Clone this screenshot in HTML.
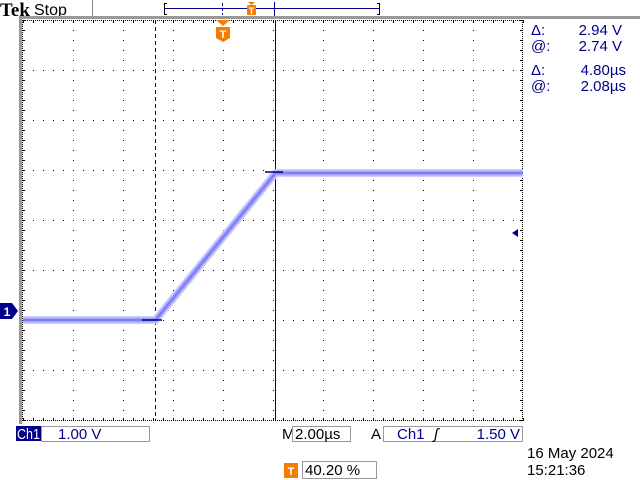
<!DOCTYPE html>
<html><head><meta charset="utf-8"><style>
body{margin:0;background:#fff;}
svg{display:block;font-family:"Liberation Sans",sans-serif;}
</style></head><body>
<svg id="scope" width="640" height="480" viewBox="0 0 640 480">
<text x="0" y="16" font-family="Liberation Serif" font-weight="bold" font-size="19" fill="#000">Tek</text>
<text x="34" y="15" font-size="16" fill="#000">Stop</text>
<line x1="92.5" y1="0" x2="92.5" y2="16" stroke="#888" stroke-width="1"/>
<g>
<path d="M167,3.5 H164.5 V14.5 H167 M377,3.5 H379.5 V14.5 H377" fill="none" stroke="#000" stroke-width="1"/>
<line x1="165" y1="8.5" x2="379" y2="8.5" stroke="#00008b" stroke-width="1"/>
<line x1="222.5" y1="3" x2="222.5" y2="15" stroke="#00008b" stroke-dasharray="3,2"/>
<line x1="274.5" y1="2" x2="274.5" y2="16" stroke="#00008b"/>
<path d="M248,2 H255 L251.5,5 Z" fill="#f57c00"/>
<rect x="247" y="5" width="9" height="10" rx="1" fill="#f57c00"/>
<text x="251.5" y="14" font-size="9" font-weight="bold" fill="#fff" text-anchor="middle">T</text>
</g>
<rect x="19" y="16" width="621" height="3" fill="#999"/>
<rect x="19" y="16" width="3" height="408" fill="#999"/>
<g id="grid"></g>
<line x1="155.5" y1="20" x2="155.5" y2="420" stroke="#00008b" stroke-width="1" stroke-dasharray="4,3"/>
<line x1="275.5" y1="20" x2="275.5" y2="420" stroke="#00008b" stroke-width="1"/>
<g id="trace"></g>
<line x1="142" y1="320" x2="162" y2="320" stroke="#00008b" stroke-width="1.5"/>
<line x1="265" y1="172" x2="283" y2="172" stroke="#00008b" stroke-width="1.5"/>
<g>
<path d="M216,20 H230 L223,26 Z" fill="#f57c00"/>
<path d="M216,27 H230 V38 L223,42 L216,38 Z" fill="#f57c00"/>
<text x="223" y="38" font-size="11" font-weight="bold" fill="#fff" text-anchor="middle">T</text>
</g>
<g>
<path d="M0,303 H12 L18,311 L12,319 H0 Z" fill="#00008b"/>
<text x="7" y="316" font-size="12" font-weight="bold" fill="#fff" text-anchor="middle">1</text>
</g>
<path d="M512,233 L518,229 V237 Z" fill="#00008b"/>
<g font-size="15" fill="#00008b">
<text x="531" y="35">Δ:</text><text x="622" y="35" text-anchor="end">2.94 V</text>
<text x="531" y="51">@:</text><text x="622" y="51" text-anchor="end">2.74 V</text>
<text x="531" y="75">Δ:</text><text x="626" y="75" text-anchor="end">4.80µs</text>
<text x="531" y="91">@:</text><text x="626" y="91" text-anchor="end">2.08µs</text>
</g>
<g font-size="15">
<rect x="16" y="426" width="25" height="15" fill="#00008b"/>
<text x="17" y="439" fill="#fff" textLength="23" lengthAdjust="spacingAndGlyphs">Ch1</text>
<rect x="41.5" y="426.5" width="108" height="15" fill="#fff" stroke="#999"/>
<text x="58" y="439" fill="#00008b">1.00 V</text>
<text x="282" y="439" fill="#000">M</text>
<rect x="292.5" y="426.5" width="58" height="15" fill="#fff" stroke="#999"/>
<text x="295" y="439" fill="#000">2.00µs</text>
<text x="371" y="439" fill="#000">A</text>
<rect x="383.5" y="426.5" width="139" height="15" fill="#fff" stroke="#999"/>
<text x="397" y="439" fill="#00008b">Ch1</text>
<text x="434" y="439" fill="#000" font-style="italic">ʃ</text>
<text x="520" y="439" fill="#00008b" text-anchor="end">1.50 V</text>
<text x="527" y="458" fill="#000">16 May 2024</text>
<text x="527" y="475" fill="#000">15:21:36</text>
<rect x="284" y="463" width="14" height="15" fill="#f57c00"/>
<text x="291" y="475" font-size="11" font-weight="bold" fill="#fff" text-anchor="middle">T</text>
<rect x="302.5" y="461.5" width="74" height="17" fill="#fff" stroke="#999"/>
<text x="305" y="475" fill="#000">40.20 %</text>
</g>
</svg>
<script>
const timeUs=[0,5.3,10.1,20];
const voltsV=[-0.16,-0.16,2.78,2.78];
const ns="http://www.w3.org/2000/svg";
function xOf(t){return 23+t*25;}
function yOf(v){return 312-v*50;}
const grid=document.getElementById('grid');
let d="";
for(let i=1;i<10;i++){const x=23+i*50;for(let y=30;y<=410;y+=10)d+=`M${x},${y}h1v1h-1z`;}
for(let j=1;j<8;j++){const y=20+j*50;for(let x=33;x<=513;x+=10)d+=`M${x},${y}h1v1h-1z`;}
for(let x=23;x<=523;x+=2){d+=`M${x},20h1v1h-1z`;d+=`M${x},420h1v1h-1z`;}
for(let x=23;x<=523;x+=10){d+=`M${x},21h1v2h-1z`;d+=`M${x},418h1v2h-1z`;}
for(let y=20;y<=420;y+=2){d+=`M522,${y}h1v1h-1z`;d+=`M22,${y}h1v1h-1z`;}
for(let y=20;y<=420;y+=10){d+=`M520,${y}h2v1h-2z`;d+=`M23,${y}h2v1h-2z`;}
const gp=document.createElementNS(ns,'path');
gp.setAttribute('d',d);gp.setAttribute('fill','#000');


grid.appendChild(gp);
const pts=timeUs.map((t,i)=>xOf(t)+","+yOf(voltsV[i])).join(" ");
const tr=document.getElementById('trace');
[["#cfcfff",8],["#a4a4ff",5],["#7c7cf4",2]].forEach(([c,w])=>{
const p=document.createElementNS(ns,'polyline');
p.setAttribute('points',pts);p.setAttribute('fill','none');
p.setAttribute('stroke',c);p.setAttribute('stroke-width',w);


tr.appendChild(p);});
</script>
</body></html>
